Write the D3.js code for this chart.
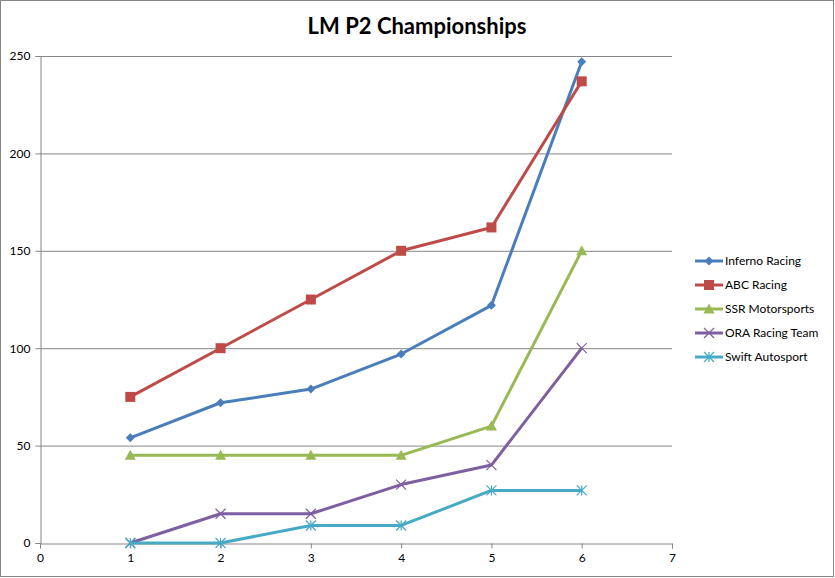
<!DOCTYPE html>
<html><head><meta charset="utf-8">
<script src="https://cdn.jsdelivr.net/npm/d3@7"></script>
<style>body{margin:0;background:#fff;}svg{display:block;font-family:Lato,"Open Sans",sans-serif;}</style>
</head><body>
<script>
const races = [1, 2, 3, 4, 5, 6];
const seriesNames = ["Inferno Racing", "ABC Racing", "SSR Motorsports", "ORA Racing Team", "Swift Autosport"];
const inferno = [54, 72, 79, 97, 122, 247];
const abc = [75, 100, 125, 150, 162, 237];
const ssr = [45, 45, 45, 45, 60, 150];
const ora = [0, 15, 15, 30, 40, 100];
const swift = [0, 0, 9, 9, 27, 27];
const xTicks = [0, 1, 2, 3, 4, 5, 6, 7];
const yTicks = [0, 50, 100, 150, 200, 250];
const colors = ["#4A7EBB", "#BE4B48", "#98B954", "#7D60A0", "#46AAC5"];
const markers = ["diamond", "square", "triangle", "x", "star"];
const allValues = [inferno, abc, ssr, ora, swift];

const W = 835, H = 578;
const svg = d3.select("body").append("svg").attr("width", W).attr("height", H);
svg.append("rect").attr("x", 0.5).attr("y", 0.5).attr("width", W - 2).attr("height", H - 2)
  .attr("fill", "#fff").attr("stroke", "#868686");

const x = d3.scaleLinear().domain([0, 7]).range([40, 672]);
const y = d3.scaleLinear().domain([0, 250]).range([543, 56]);

svg.append("g").selectAll("line").data(yTicks.filter(d => d > 0)).join("line")
  .attr("x1", x(0)).attr("x2", x(7)).attr("y1", d => y(d) + 0.5).attr("y2", d => y(d) + 0.5)
  .attr("stroke", "#868686").attr("stroke-width", 1);

const yAxis = svg.append("g").attr("transform", `translate(${x(0) + 0.5},0)`)
  .call(d3.axisLeft(y).tickValues(yTicks).tickFormat(d3.format("d")).tickSize(5).tickPadding(5));
const xAxis = svg.append("g").attr("transform", `translate(0,${y(0) + 0.5})`)
  .call(d3.axisBottom(x).tickValues(xTicks).tickFormat(d3.format("d")).tickSize(5).tickPadding(5));
[yAxis, xAxis].forEach(a => {
  a.select(".domain").attr("stroke", "#868686");
  a.selectAll(".tick line").attr("stroke", "#868686");
  a.selectAll("text").attr("fill", "#000").attr("font-size", 12).attr("font-family", "Lato, 'Open Sans', sans-serif");
});

svg.append("text").attr("x", 417).attr("y", 34).attr("text-anchor", "middle")
  .attr("font-size", 22).attr("font-weight", "bold").text("LM P2 Championships");

function drawMarker(g, type, color, cx, cy, s) {
  if (type === "diamond") {
    g.append("path").attr("d", `M${cx},${cy - s}L${cx + s},${cy}L${cx},${cy + s}L${cx - s},${cy}Z`).attr("fill", color);
  } else if (type === "square") {
    g.append("rect").attr("x", cx - s).attr("y", cy - s).attr("width", 2 * s).attr("height", 2 * s).attr("fill", color);
  } else if (type === "triangle") {
    g.append("path").attr("d", `M${cx},${cy - s}L${cx + s},${cy + s * 0.8}L${cx - s},${cy + s * 0.8}Z`).attr("fill", color);
  } else if (type === "x") {
    g.append("path").attr("d", `M${cx - s},${cy - s}L${cx + s},${cy + s}M${cx - s},${cy + s}L${cx + s},${cy - s}`)
      .attr("stroke", color).attr("stroke-width", 1.2).attr("fill", "none");
  } else if (type === "star") {
    g.append("path").attr("d", `M${cx - s},${cy - s}L${cx + s},${cy + s}M${cx - s},${cy + s}L${cx + s},${cy - s}M${cx},${cy - s}L${cx},${cy + s}`)
      .attr("stroke", color).attr("stroke-width", 1.2).attr("fill", "none");
  }
}
const sizes = {diamond: 4.5, square: 5, triangle: 5.5, x: 5, star: 5};

const line = d3.line().x((d, i) => x(races[i])).y(d => y(d));
allValues.forEach((vals, si) => {
  const g = svg.append("g");
  g.append("path").attr("d", line(vals)).attr("fill", "none").attr("stroke", colors[si])
    .attr("stroke-width", 3).attr("stroke-linejoin", "round");
  vals.forEach((v, i) => drawMarker(g, markers[si], colors[si], x(races[i]), y(v), sizes[markers[si]]));
});

const leg = svg.append("g");
seriesNames.forEach((n, i) => {
  const ly = 261 + i * 24;
  leg.append("line").attr("x1", 695).attr("x2", 723).attr("y1", ly).attr("y2", ly)
    .attr("stroke", colors[i]).attr("stroke-width", 3);
  drawMarker(leg, markers[i], colors[i], 709, ly, sizes[markers[i]]);
  leg.append("text").attr("x", 725).attr("y", ly + 4).attr("font-size", 12).text(n);
});
</script>
</body></html>
